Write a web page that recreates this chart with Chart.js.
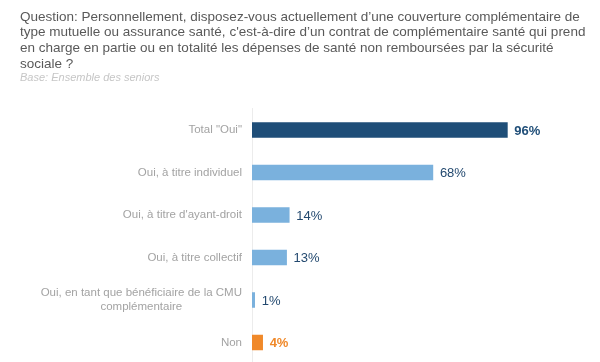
<!DOCTYPE html>
<html>
<head>
<meta charset="utf-8">
<script src="https://cdn.jsdelivr.net/npm/chart.js@4"></script>
<style>
    body{margin:0;width:600px;height:362px;overflow:hidden;background:#fff;font-family:"Liberation Sans",Arial,sans-serif;}
    .q{position:absolute;left:20px;font-size:13.5px;line-height:18px;height:18px;color:#595959;white-space:nowrap;z-index:2;}
    #base{position:absolute;left:20px;top:71px;font-style:italic;font-size:11px;line-height:13px;color:#c6c6c6;white-space:nowrap;z-index:2;}
    #chart{position:absolute;left:0;top:0;}
</style>
</head>
<body>
<div class="q" style="top:7.5px">Question: Personnellement, disposez-vous actuellement d’une couverture complémentaire de</div>
<div class="q" style="top:23.3px">type mutuelle ou assurance santé, c'est-à-dire d’un contrat de complémentaire santé qui prend</div>
<div class="q" style="top:39.1px">en charge en partie ou en totalité les dépenses de santé non remboursées par la sécurité</div>
<div class="q" style="top:54.9px">sociale ?</div>
<div id="base">Base: Ensemble des seniors</div>
<canvas id="chart" width="600" height="380"></canvas>
<script>
const categories = [
    'Total "Oui"',
    ["Oui, à titre individuel"],
    ["Oui, à titre d'ayant-droit"],
    ["Oui, à titre collectif"],
    ["Oui, en tant que bénéficiaire de la CMU", "complémentaire"],
    ["Non"]
];
const values = [96, 68, 14, 13, 1, 4];
const barColors = ["#1f4e78", "#7ab1dd", "#7ab1dd", "#7ab1dd", "#7ab1dd", "#f0892a"];
const valueColors = ["#1f4e78", "#23496f", "#23496f", "#23496f", "#23496f", "#f0892a"];
const valueBold = [true, false, false, false, false, true];

// labels on the left: right aligned, multi-line ones centred on their widest line
const leftLabels = {
    id: "leftLabels",
    afterDraw(chart){
        const ctx = chart.ctx;
        const yScale = chart.scales.y;
        const right = chart.chartArea.left - 10;
        ctx.save();
        ctx.font = '11.5px "Liberation Sans", Arial, sans-serif';
        ctx.fillStyle = "#a3a3a3";
        ctx.textBaseline = "middle";
        ctx.textAlign = "center";
        categories.forEach((cat, i) => {
            const lines = Array.isArray(cat) ? cat : [cat];
            const widest = Math.max(...lines.map(l => ctx.measureText(l).width));
            const cx = right - widest / 2;
            const y0 = yScale.getPixelForValue(i) - (lines.length - 1) * 7;
            lines.forEach((l, j) => ctx.fillText(l, cx, y0 + j * 14));
        });
        ctx.restore();
    }
};

const valueLabels = {
    id: "valueLabels",
    afterDatasetsDraw(chart){
        const ctx = chart.ctx;
        const meta = chart.getDatasetMeta(0);
        ctx.save();
        ctx.textBaseline = "middle";
        ctx.textAlign = "left";
        meta.data.forEach((bar, i) => {
            ctx.font = (valueBold[i] ? "bold " : "") + '13px "Liberation Sans", Arial, sans-serif';
            ctx.fillStyle = valueColors[i];
            ctx.fillText(values[i] + "%", bar.x + 7, bar.y + 1);
        });
        ctx.restore();
    }
};

new Chart(document.getElementById("chart"), {
    type: "bar",
    data: {
        labels: categories.map((c, i) => i),
        datasets: [{
            data: values,
            backgroundColor: barColors,
            barThickness: 15
        }]
    },
    options: {
        indexAxis: "y",
        responsive: false,
        animation: false,
        layout: {
            padding: {top: 108.75, bottom: 16.25, right: 82, left: 0}
        },
        plugins: {
            legend: {display: false},
            tooltip: {enabled: false}
        },
        scales: {
            x: {
                display: false,
                min: 0,
                max: 100
            },
            y: {
                ticks: {display: false},
                grid: {display: false},
                border: {display: true, color: "#ececec", width: 1},
                afterFit(scale){
                    scale.width = 252;
                }
            }
        }
    },
    plugins: [leftLabels, valueLabels]
});
</script>
</body>
</html>
